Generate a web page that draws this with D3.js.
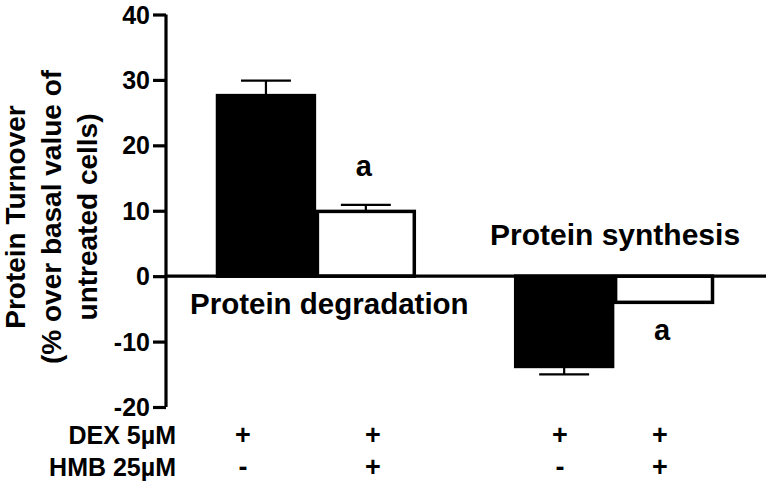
<!DOCTYPE html>
<html><head><meta charset="utf-8">
<script src="https://cdn.jsdelivr.net/npm/d3@7"></script>
<style>
html,body{margin:0;padding:0;background:#fff;}
svg{display:block;font-family:"Liberation Sans",Arial,sans-serif;font-weight:bold;}
</style></head>
<body><svg id="chart" width="766" height="481"></svg>
<script>
// ---- data ----
const groups = ["Protein degradation", "Protein synthesis"];
const treatments = ["DEX", "DEX+HMB"];
const dexValues = [27.6, -13.8];
const dexErrors = [2.3, 1.2];
const hmbValues = [9.9, -4.0];
const hmbErrors = [1.0, 0];
const yTicks = [-20, -10, 0, 10, 20, 30, 40];
const rowLabels = ["DEX 5\u00b5M", "HMB 25\u00b5M"];
const dexRow = ["+", "+", "+", "+"];
const hmbRow = ["-", "+", "-", "+"];
const sigMarks = ["", "a"];
const yTitle = ["Protein Turnover", "(% over basal value of", "untreated cells)"];

// ---- build ----
const svg = d3.select("#chart");
const axisX = 166;
const y = d3.scaleLinear().domain([-20, 40]).range([407, 14.5]);
const xg = d3.scaleBand().domain(groups).range([216, 714]).paddingInner(0.33).paddingOuter(0);
const xi = d3.scaleBand().domain(treatments).range([0, xg.bandwidth()]).padding(0);

const bars = [];
groups.forEach((g, i) => {
  bars.push({g, t: treatments[0], v: dexValues[i], e: dexErrors[i], fill: "#000", sig: ""});
  bars.push({g, t: treatments[1], v: hmbValues[i], e: hmbErrors[i], fill: "#fff", sig: sigMarks[1]});
});
const bx = d => xg(d.g) + xi(d.t);
const bw = xi.bandwidth();

// bars
svg.append("g").selectAll("rect").data(bars).join("rect")
  .attr("x", d => bx(d) + 1.5)
  .attr("width", bw - 3)
  .attr("y", d => Math.min(y(d.v), y(0)))
  .attr("height", d => Math.abs(y(d.v) - y(0)))
  .attr("fill", d => d.fill)
  .attr("stroke", "#000").attr("stroke-width", 3.5);

// error bars (one-sided, away from zero)
const eb = svg.append("g").attr("stroke", "#000").attr("stroke-width", 2.2);
bars.filter(d => d.e > 0).forEach(d => {
  const cx = bx(d) + bw / 2;
  const end = d.v + Math.sign(d.v) * d.e;
  eb.append("line").attr("x1", cx).attr("x2", cx).attr("y1", y(d.v)).attr("y2", y(end));
  eb.append("line").attr("x1", cx - bw / 4).attr("x2", cx + bw / 4).attr("y1", y(end)).attr("y2", y(end));
});

// significance letters
svg.append("g").selectAll("text").data(bars.filter(d => d.sig)).join("text")
  .attr("x", d => bx(d) + bw / 2 - 2)
  .attr("y", d => d.v > 0 ? y(d.v + d.e) - 29 : y(d.v) + 38)
  .attr("text-anchor", "middle").attr("font-size", 29)
  .text(d => d.sig);

// y axis
const yAxis = d3.axisLeft(y).tickValues(yTicks).tickSize(13).tickPadding(3).tickFormat(d => String(d));
const ga = svg.append("g").attr("transform", `translate(${axisX},0)`).call(yAxis);
ga.select(".domain").attr("stroke-width", 3.2).attr("d", `M0,${y(40)}V${y(-20)}`);
ga.selectAll(".tick line").attr("stroke-width", 3.2);
ga.selectAll(".tick text").attr("font-size", 25).attr("font-family", "Liberation Sans, Arial, sans-serif").attr("font-weight", "bold").attr("fill", "#000").attr("dy", "0.34em");

// zero line
svg.append("line").attr("x1", axisX).attr("x2", 766).attr("y1", y(0)).attr("y2", y(0))
  .attr("stroke", "#000").attr("stroke-width", 3.2);

// group labels
svg.append("text").attr("x", 190).attr("y", y(0) + 38).attr("font-size", 29.5).text(groups[0]);
svg.append("text").attr("x", 490).attr("y", y(0) - 31).attr("font-size", 30).text(groups[1]);

// y title
const yt = svg.append("text").attr("transform", `translate(0,217) rotate(-90)`).attr("text-anchor", "middle").attr("font-size", 28);
yTitle.forEach((s, i) => yt.append("tspan").attr("x", 0).attr("y", 25 + i * 36).text(s));

// treatment rows
const rowX = [243, 373, 560, 660];
[dexRow, hmbRow].forEach((row, r) => {
  const ty = 444 + r * 32;
  svg.append("text").attr("x", 176).attr("y", ty).attr("text-anchor", "end").attr("font-size", 25).text(rowLabels[r]);
  svg.append("g").selectAll("text").data(row).join("text")
    .attr("x", (d, i) => rowX[i]).attr("y", ty).attr("text-anchor", "middle").attr("font-size", 27).text(d => d);
});
</script></body></html>
